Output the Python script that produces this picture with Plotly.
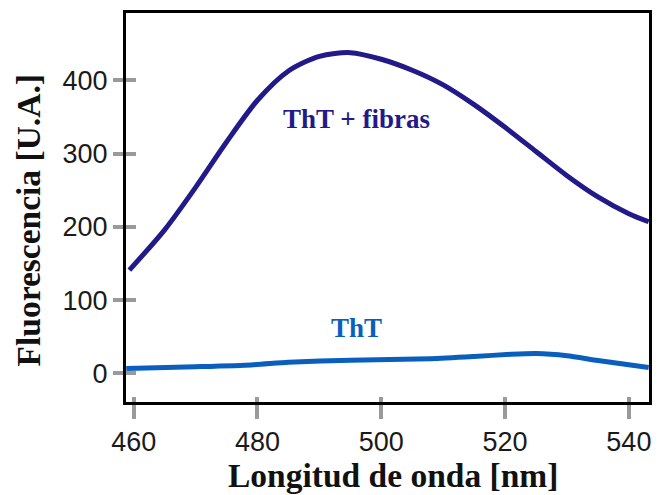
import plotly.graph_objects as go

# Data
fibras_x = [459.3, 465, 470, 475, 480, 485, 490, 495, 500, 505, 510, 515, 520, 525, 530, 535, 540, 543.2]
fibras_y = [141, 196, 254, 316, 373, 413, 433, 438, 429, 414, 394, 367, 336, 303, 270, 241, 218, 207]

tht_x = [458.8, 470, 479, 485, 495, 508, 515, 521, 525, 530, 535, 543.2]
tht_y = [6.5, 9, 11.5, 15, 18, 20, 23, 26, 27, 24, 17.5, 8]

x_ticks = [460, 480, 500, 520, 540]
y_ticks = [0, 100, 200, 300, 400]

NAVY = "#231a8a"
BLUE = "#0a5fbe"
TICKGRAY = "#9a9a9a"

fig = go.Figure()
fig.add_trace(go.Scatter(x=fibras_x, y=fibras_y, mode="lines",
                         line=dict(color=NAVY, width=5, shape="spline", smoothing=0.8),
                         showlegend=False, hoverinfo="skip"))
fig.add_trace(go.Scatter(x=tht_x, y=tht_y, mode="lines",
                         line=dict(color=BLUE, width=5, shape="spline", smoothing=0.6),
                         showlegend=False, hoverinfo="skip", xaxis="x2", yaxis="y2"))

fig.add_annotation(x=496, y=347, text="<b>ThT + fibras</b>", showarrow=False,
                   font=dict(family="Liberation Serif", size=27, color=NAVY))
fig.add_annotation(x=496, y=62, text="<b>ThT</b>", showarrow=False,
                   font=dict(family="Liberation Serif", size=27, color=BLUE))

titlefont = dict(family="Liberation Serif", size=33.5, color="#111111")
# axis titles
fig.add_annotation(xref="paper", yref="paper", x=0.5096, y=-0.190,
                   xanchor="center", yanchor="middle", showarrow=False,
                   text="<b>Longitud de onda [nm]</b>", font=titlefont)
fig.add_annotation(xref="paper", yref="paper", x=-0.1864, y=0.4653,
                   xanchor="center", yanchor="middle", showarrow=False, textangle=-90,
                   text="<b>Fluorescencia [U.A.]</b>", font=titlefont)

xr = [458.76, 543.25]
yr = [-39.2, 492.2]
tickfont = dict(family="Liberation Sans", size=27, color="#1a1a1a")

fig.update_layout(
    width=662, height=495,
    margin=dict(l=126, r=13, t=13, b=93),
    paper_bgcolor="white", plot_bgcolor="white",
    xaxis=dict(range=xr, tickvals=x_ticks, ticks="outside", ticklen=14, tickwidth=4,
               tickcolor=TICKGRAY, showline=True, linecolor="black", linewidth=3,
               mirror=True, showgrid=False, zeroline=False, tickfont=tickfont,
               automargin=False),
    yaxis=dict(range=yr, tickvals=y_ticks, ticks="outside", ticklen=10, tickwidth=4,
               tickcolor=TICKGRAY, showline=True, linecolor="black", linewidth=3,
               mirror=True, showgrid=False, zeroline=False, tickfont=tickfont,
               automargin=False),
    xaxis2=dict(range=xr, matches="x", overlaying="x", anchor="y2", side="bottom",
                tickvals=x_ticks, ticks="inside", ticklen=5, tickwidth=4,
                tickcolor=TICKGRAY, showticklabels=False, showline=False,
                showgrid=False, zeroline=False, automargin=False),
    yaxis2=dict(range=yr, matches="y", overlaying="y", anchor="x2", side="left",
                tickvals=y_ticks, ticks="inside", ticklen=10, tickwidth=4,
                tickcolor=TICKGRAY, showticklabels=False, showline=False,
                showgrid=False, zeroline=False, automargin=False),
)

fig.write_html("out.html")
